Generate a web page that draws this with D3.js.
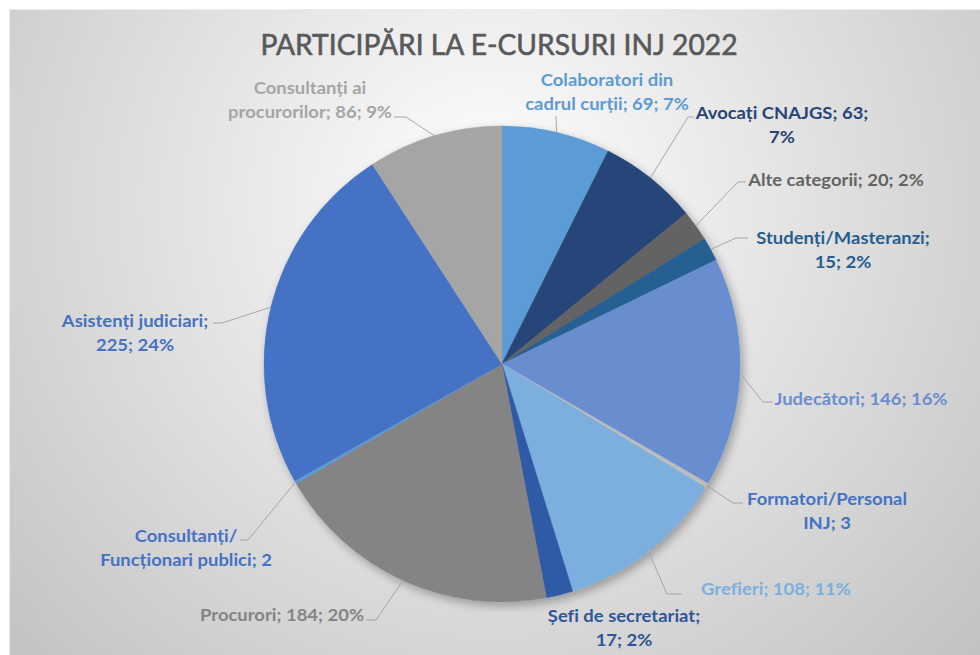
<!DOCTYPE html>
<html lang="ro">
<head>
<meta charset="utf-8">
<title>Participări la e-cursuri INJ 2022</title>
<script src="https://cdn.jsdelivr.net/npm/d3@7"></script>
<style>
  html, body { margin: 0; padding: 0; background: #fff; }
  svg { display: block; }
  text { font-variant-ligatures: none; }
</style>
</head>
<body>
<div id="chart"></div>
<script>
'use strict';

// values, clockwise from 12 o'clock
const categories = [
    'Colaboratori din cadrul curții',
    'Avocați CNAJGS',
    'Alte categorii',
    'Studenți/Masteranzi',
    'Judecători',
    'Formatori/Personal INJ',
    'Grefieri',
    'Șefi de secretariat',
    'Procurori',
    'Consultanți/ Funcționari publici',
    'Asistenți judiciari',
    'Consultanți ai procurorilor'
];
const values = [69, 63, 20, 15, 146, 3, 108, 17, 184, 2, 225, 86];
// percentages as printed on the chart (null = not shown)
const percentLabels = ['7%', '7%', '2%', '2%', '16%', null, '11%', '2%', '20%', null, '24%', '9%'];

const sliceColors = ['#5B9BD5', '#264478', '#636363', '#255E91', '#698ED0', '#BDBDBD',
    '#7CAFDD', '#2F5AA6', '#848484', '#5B9BD5', '#4472C4', '#A5A5A5'];
const labelColors = ['#5B9BD5', '#264478', '#636363', '#255E91', '#698ED0', '#4472C4',
    '#7CAFDD', '#2F5597', '#848484', '#4472C4', '#4472C4', '#A5A5A5'];

// label layout: [center x, first baseline, words on first line]
const labelLayout = [
    [607, 86, 2], [782, 119, 3], [836, 186, 9], [843, 244, 1], [861, 405, 9], [827, 505, 1],
    [776, 595, 9], [624, 622, 3], [282, 621, 9], [186, 542, 1], [135, 327, 2], [310, 94, 2]
];
// leader lines: [start x, start y, horizontal run]
const leaderLayout = [
    [556, 116, 0], [694, 117, -6], [746, 182, -8], [748, 238, -12], [773, 402, -10], [743, 503, -10],
    [682, 594, -15], null, [366, 620, 10], [240, 540, 8], [213, 323, 9], [394, 117, 12]
];

const width = 980;
const height = 655;
const cx = 502;
const cy = 364;
const radius = 238;
const lineHeight = 24;
const fontFamily = 'Lato, "Open Sans", sans-serif';

const svg = d3.select('#chart')
    .append('svg')
    .attr('width', width)
    .attr('height', height)
    .attr('viewBox', `0 0 ${width} ${height}`);

const defs = svg.append('defs');
const bgGrad = defs.append('radialGradient')
    .attr('id', 'bgGrad')
    .attr('gradientUnits', 'userSpaceOnUse')
    .attr('cx', 490)
    .attr('cy', 200)
    .attr('r', 700);
bgGrad.append('stop').attr('offset', 0).attr('stop-color', '#ffffff');
bgGrad.append('stop').attr('offset', 1).attr('stop-color', '#bfbfbf');

const shadow = defs.append('filter')
    .attr('id', 'pieShadow')
    .attr('x', '-20%').attr('y', '-20%')
    .attr('width', '140%').attr('height', '140%');
shadow.append('feDropShadow')
    .attr('dx', 3)
    .attr('dy', 4)
    .attr('stdDeviation', 5)
    .attr('flood-color', '#000')
    .attr('flood-opacity', 0.3);

// chart area
svg.append('rect')
    .attr('x', 9.5)
    .attr('y', 9.5)
    .attr('width', width - 9)
    .attr('height', height - 9)
    .attr('fill', 'url(#bgGrad)')
    .attr('stroke', '#ececec');

// width of a string at a given size
const measure = (text, weight, size) => {
    const t = svg.append('text')
        .attr('font-family', fontFamily)
        .attr('font-weight', weight)
        .attr('font-size', size)
        .text(text);
    const w = t.node().getComputedTextLength();
    t.remove();
    return w;
};

// title: Calibri-like, so a bit condensed
const titleText = 'PARTICIPĂRI LA E-CURSURI INJ 2022';
svg.append('text')
    .attr('x', 499)
    .attr('y', 55)
    .attr('text-anchor', 'middle')
    .attr('font-family', fontFamily)
    .attr('font-size', 28.5)
    .attr('fill', '#595959')
    .attr('stroke', '#595959')
    .attr('stroke-width', 0.6)
    .attr('textLength', 477)
    .attr('lengthAdjust', 'spacingAndGlyphs')
    .text(titleText);

// pie
const dataset = categories.map((name, i) => ({ name, value: values[i], pct: percentLabels[i] }));
const pie = d3.pie().value(d => d.value).sort(null);
const arcs = pie(dataset);
const arc = d3.arc().innerRadius(0).outerRadius(radius);
const edgeArc = d3.arc().innerRadius(radius).outerRadius(radius);

const pieWrap = svg.append('g')
    .attr('transform', `translate(${cx}, ${cy})`)
    .attr('filter', 'url(#pieShadow)');
pieWrap.selectAll('.slice')
    .data(arcs)
    .join('path')
    .attr('class', 'slice')
    .attr('d', arc)
    .attr('fill', (d, i) => sliceColors[i])
    .attr('stroke', (d, i) => sliceColors[i])
    .attr('stroke-width', 0.5);

// leader lines
svg.append('g')
    .selectAll('path')
    .data(arcs.filter((d, i) => leaderLayout[i]))
    .join('path')
    .attr('fill', 'none')
    .attr('stroke', '#a6a6a6')
    .attr('stroke-width', 1)
    .attr('d', d => {
        const [sx, sy, run] = leaderLayout[d.index];
        const [ex, ey] = edgeArc.centroid(d);
        return `M${sx},${sy}h${run}L${cx + ex},${cy + ey}`;
    });

// data labels, squeezed horizontally to Calibri proportions
const labelSize = 17.5;
const squeeze = 173 / measure('Judecători; 146; 16%', 'bold', labelSize);
const labels = svg.append('g')
    .attr('font-family', fontFamily)
    .attr('font-weight', 'bold')
    .attr('font-size', labelSize)
    .attr('text-anchor', 'middle');
arcs.forEach((d, i) => {
    const full = `${d.data.name}; ${d.data.value}` + (d.data.pct ? `; ${d.data.pct}` : '');
    const words = full.split(' ');
    const [x, y, n] = labelLayout[i];
    const lines = [words.slice(0, n).join(' '), words.slice(n).join(' ')].filter(s => s);
    const text = labels.append('text')
        .attr('transform', `translate(${x}, 0) scale(${squeeze}, 1)`)
        .attr('fill', labelColors[i]);
    lines.forEach((line, j) => {
        text.append('tspan')
            .attr('x', 0)
            .attr('y', y + j * lineHeight)
            .text(line.replace('Consultanți/ ', 'Consultanți/'));
    });
});
</script>
</body>
</html>
